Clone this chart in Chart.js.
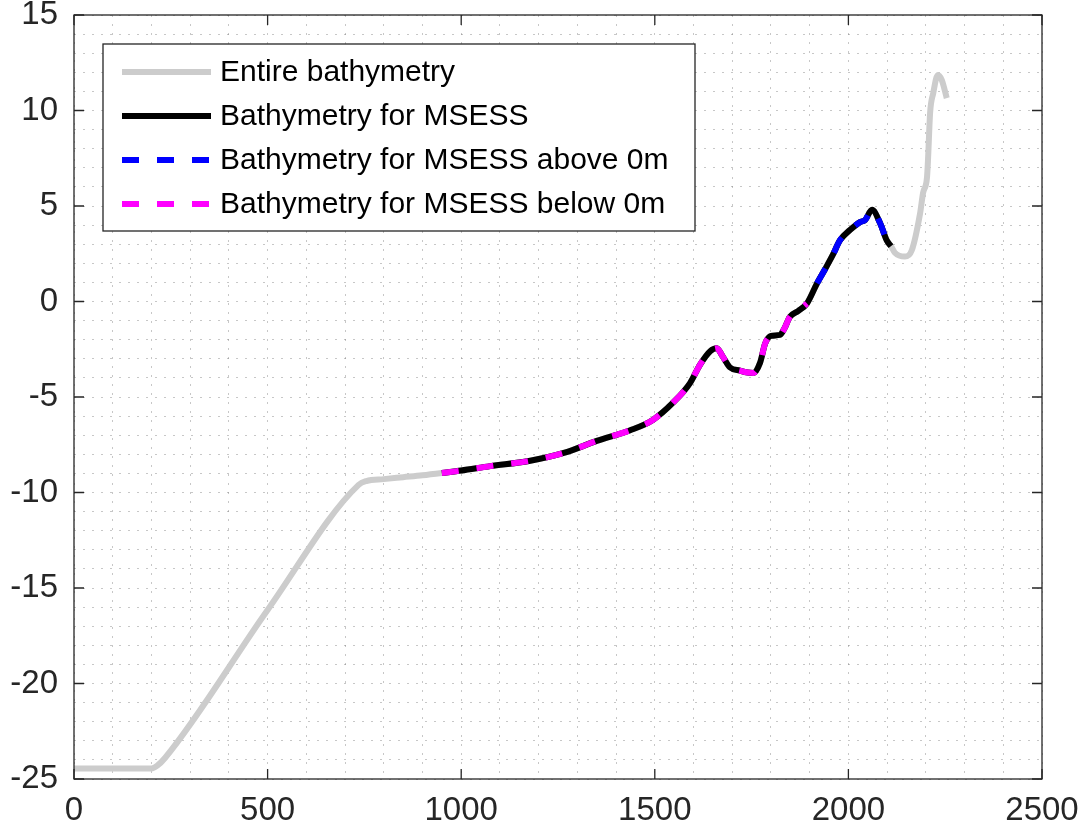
<!DOCTYPE html>
<html lang="en">
<head>
<meta charset="UTF-8">
<title>Bathymetry profile</title>
<script src="https://cdn.jsdelivr.net/npm/chart.js@4.4.1/dist/chart.umd.min.js"></script>
<style>
  body { margin: 0; background: #fff; }
</style>
</head>
<body>
<canvas id="c" width="1086" height="838"></canvas>
<script>
    // profile (distance, elevation)
    const distance = [0, 200, 215, 235, 500, 735, 755, 800, 850, 900,
        950, 1000, 1075, 1175, 1265, 1350, 1435, 1495, 1547, 1591,
        1617, 1643, 1660, 1676, 1694, 1720, 1740, 1755, 1772, 1785,
        1800, 1823, 1835, 1849, 1870, 1893, 1919, 1940, 1960, 1978,
        2004, 2030, 2043, 2061, 2082, 2099, 2110, 2120, 2146, 2164,
        2185, 2193, 2203, 2206, 2211, 2219, 2231, 2241, 2254];
    const elevation = [-24.45, -24.45, -24.3, -23.9, -16.15, -9.6, -9.4, -9.3, -9.2, -9.1,
        -8.98, -8.85, -8.62, -8.35, -7.93, -7.3, -6.75, -6.2, -5.3, -4.27,
        -3.3, -2.6, -2.45, -2.9, -3.45, -3.62, -3.72, -3.74, -3.2, -2.2,
        -1.8, -1.75, -1.4, -0.8, -0.5, -0.1, 0.95, 1.7, 2.45, 3.2,
        3.74, 4.16, 4.26, 4.8, 4.1, 3.2, 2.9, 2.55, 2.35, 2.7,
        4.6, 5.7, 6.5, 7.6, 9.87, 10.9, 11.86, 11.6, 10.65];
    const msessRange = [950, 2110];

    const seriesNames = ['Entire bathymetry', 'Bathymetry for MSESS',
        'Bathymetry for MSESS above 0m', 'Bathymetry for MSESS below 0m'];
    const seriesColors = ['#cccccc', '#000000', '#0000ff', '#ff00ff'];

    const xTicks = [0, 500, 1000, 1500, 2000, 2500];
    const yTicks = [-25, -20, -15, -10, -5, 0, 5, 10, 15];

    const FONT = "'Liberation Sans', Arial, Helvetica, sans-serif";
    const TXT = '#262626';

    // build the point lists
    const entire = distance.map((d, i) => ({ x: d, y: elevation[i] }));
    const msess = entire.filter(p => p.x >= msessRange[0] && p.x <= msessRange[1]);
    const above = msess.map(p => ({ x: p.x, y: p.y >= 0 ? p.y : null }));
    const below = msess.map(p => ({ x: p.x, y: p.y < 0 ? p.y : null }));

    function ds(i, data, dash, order, width) {
        return {
            label: seriesNames[i],
            data: data,
            borderColor: seriesColors[i],
            backgroundColor: seriesColors[i],
            borderWidth: width,
            borderDash: dash,
            pointRadius: 0,
            showLine: true,
            spanGaps: false,
            cubicInterpolationMode: 'monotone',
            order: order
        };
    }

    // box, inward ticks on all four sides, and the legend inside the axes
    const matlabBox = {
        id: 'matlabBox',
        afterDatasetsDraw(chart) {
            const ctx = chart.ctx;
            const a = chart.chartArea;
            const xs = chart.scales.x, ys = chart.scales.y;
            ctx.save();
            ctx.strokeStyle = TXT;
            ctx.lineWidth = 1.3;
            ctx.strokeRect(a.left, a.top, a.right - a.left, a.bottom - a.top);
            ctx.beginPath();
            xTicks.forEach(v => {
                const px = xs.getPixelForValue(v);
                ctx.moveTo(px, a.bottom); ctx.lineTo(px, a.bottom - 10);
                ctx.moveTo(px, a.top); ctx.lineTo(px, a.top + 10);
            });
            yTicks.forEach(v => {
                const py = ys.getPixelForValue(v);
                ctx.moveTo(a.left, py); ctx.lineTo(a.left + 10, py);
                ctx.moveTo(a.right, py); ctx.lineTo(a.right - 10, py);
            });
            ctx.stroke();

            // legend
            const bx = a.left + 29, by = a.top + 29, bw = 592, bh = 187;
            ctx.fillStyle = '#fff';
            ctx.fillRect(bx, by, bw, bh);
            ctx.strokeStyle = TXT;
            ctx.lineWidth = 1.3;
            ctx.strokeRect(bx, by, bw, bh);
            ctx.font = '30px ' + FONT;
            ctx.textBaseline = 'middle';
            ctx.textAlign = 'left';
            const dashes = [[], [], [17, 18], [17, 18]];
            seriesNames.forEach((name, i) => {
                const y = by + 28 + i * 44;
                ctx.beginPath();
                ctx.setLineDash(dashes[i]);
                ctx.strokeStyle = seriesColors[i];
                ctx.lineWidth = 6;
                ctx.moveTo(bx + 19, y);
                ctx.lineTo(bx + 108, y);
                ctx.stroke();
                ctx.setLineDash([]);
                ctx.fillStyle = '#000';
                ctx.fillText(name, bx + 117, y + 1);
            });
            ctx.restore();
        }
    };

    const gridStyle = {
        color: 'rgba(130,130,130,0.45)',
        lineWidth: 1,
        drawTicks: false
    };

    new Chart(document.getElementById('c'), {
        type: 'scatter',
        data: {
            datasets: [
                ds(0, entire, [], 4, 6),
                ds(1, msess, [], 3, 6),
                ds(2, above, [17, 18], 2, 6),
                ds(3, below, [17, 18], 1, 6)
            ]
        },
        options: {
            responsive: false,
            animation: false,
            layout: { padding: { top: 15, right: 44, left: 0, bottom: 0 } },
            plugins: {
                legend: { display: false },
                tooltip: { enabled: false }
            },
            scales: {
                x: {
                    type: 'linear',
                    min: 0,
                    max: 2500,
                    afterFit(s) { s.height = 59; s.paddingLeft = 0; s.paddingRight = 0; },
                    border: { display: false, dash: [2, 7] },
                    grid: gridStyle,
                    ticks: {
                        stepSize: 100,
                        autoSkip: false,
                        maxRotation: 0,
                        padding: 12,
                        color: TXT,
                        font: { family: FONT, size: 33 },
                        callback: v => (xTicks.includes(v) ? String(v) : '')
                    }
                },
                y: {
                    type: 'linear',
                    min: -25,
                    max: 15,
                    afterFit(s) { s.width = 74; s.paddingTop = 0; s.paddingBottom = 0; },
                    border: { display: false, dash: [2, 7] },
                    grid: gridStyle,
                    ticks: {
                        stepSize: 1,
                        autoSkip: false,
                        padding: 16,
                        color: TXT,
                        font: { family: FONT, size: 33 },
                        callback: v => (yTicks.includes(v) ? String(v) : '')
                    }
                }
            }
        },
        plugins: [matlabBox]
    });
</script>
</body>
</html>
